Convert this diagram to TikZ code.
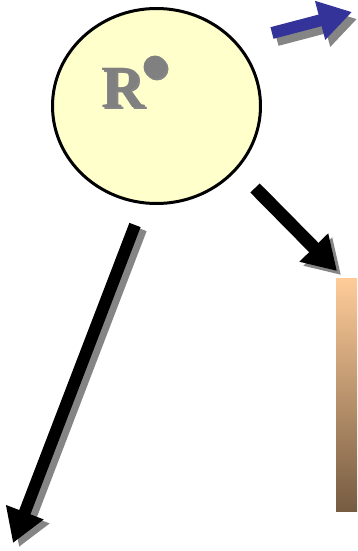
\documentclass[tikz,border=0pt]{standalone}
\usepackage{fontspec}
\setmainfont{Liberation Serif}
\usepackage{xcolor}
\usepackage{tikz}
\usetikzlibrary{arrows.meta,shapes.geometric}

\definecolor{ballfill}{RGB}{255,255,204}
\definecolor{pushblue}{RGB}{51,51,153}
\definecolor{bartop}{RGB}{255,204,153}
\definecolor{barbottom}{RGB}{118,92,66}

\tikzset{
  fatarrow/.style={line width=#1,-{Triangle[length=33pt,width=38pt]}},
  shadowgray/.style={color=black!48},
}

\begin{document}
\begin{tikzpicture}[x=1pt,y=-1pt]
  \useasboundingbox (0,0) rectangle (357,551);
  % the sphere
  \node[draw,line width=3pt,fill=ballfill,ellipse,minimum width=208pt,minimum height=195pt,inner sep=0pt] (sphere) at (156.5,106) {};
  \node[gray,font=\bfseries\fontsize{60}{60}\selectfont,inner sep=0pt] (rlabel) at (123,89)
    {\rlap{\kern2pt\raisebox{-2pt}{\color{black!48}R}}R};
  \node[circle,fill=black!48,minimum size=23pt,inner sep=0pt] (dotshadow) at (157,69) {};
  \node[circle,fill=gray,minimum size=23pt,inner sep=0pt] (dot) at (155,67) {};

  % arrow ends
  \coordinate (blueTail) at (272,33);
  \coordinate (blueTip) at (352,12);
  \coordinate (midTail) at (255,188);
  \coordinate (midTip) at (337,271);
  \coordinate (longTail) at (135,225);
  \coordinate (longTip) at (13,543);

  % shadows
  \draw[fatarrow=12pt,shadowgray] ([shift={(5,7)}]blueTail) -- ([shift={(5,7)}]blueTip);
  \draw[fatarrow=13pt,shadowgray] ([shift={(4,4)}]midTail) -- ([shift={(4,4)}]midTip);
  \draw[fatarrow=12pt,shadowgray] ([shift={(6,4)}]longTail) -- ([shift={(6,4)}]longTip);

  % arrows
  \draw[fatarrow=12pt,pushblue] (blueTail) -- (blueTip);
  \draw[fatarrow=13pt,black] (midTail) -- (midTip);
  \draw[fatarrow=12pt,black] (longTail) -- (longTip);

  % the wall
  \shade[top color=bartop,bottom color=barbottom] (336,278) rectangle (357,511);
\end{tikzpicture}
\end{document}
